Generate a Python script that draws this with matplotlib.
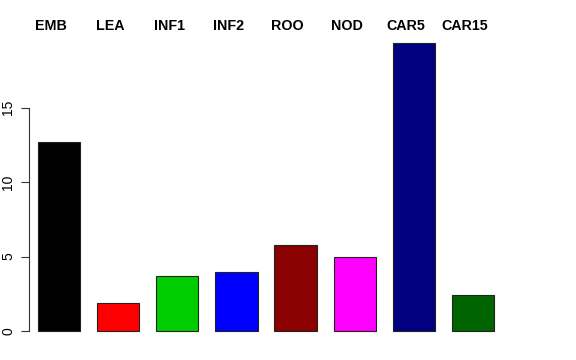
import matplotlib
matplotlib.use("Agg")
import matplotlib.pyplot as plt

categories = ["EMB", "LEA", "INF1", "INF2", "ROO", "NOD", "CAR5", "CAR15"]
values = [12.72, 1.88, 3.70, 3.97, 5.78, 4.98, 19.37, 2.42]
colors = ["#000000", "#FF0000", "#00CD00", "#0000FF", "#8B0000", "#FF00FF", "#000080", "#006400"]
yticks = [0, 5, 10, 15]

plt.rcParams['font.family'] = ['Liberation Sans', 'DejaVu Sans']

W, H = 576, 360
fig = plt.figure(figsize=(W / 100, H / 100), dpi=100)
left_px, right_px, top_px, bot_px = 29, 512, 31, 342.5
ax = fig.add_axes([left_px / W, 1 - bot_px / H, (right_px - left_px) / W, (bot_px - top_px) / H])

x = list(range(len(categories)))
width = 1 / 1.4
ax.bar(x, values, width=width, color=colors, edgecolor="#222222", linewidth=0.8)

# x limits so bars map to pixels
ppu = (494 - 38) / (7 + width)
x0 = -width / 2 - (38 - left_px) / ppu
x1 = 7 + width / 2 + (right_px - 494) / ppu
ax.set_xlim(x0, x1)
ymax = max(values)
ax.set_ylim(-0.04 * ymax, 1.04 * ymax)

for s in ["top", "right", "bottom"]:
    ax.spines[s].set_visible(False)
ax.spines["left"].set_bounds(0, 15)
ax.spines["left"].set_linewidth(0.8)
ax.spines["left"].set_color("#333333")
ax.set_xticks([])
ax.set_yticks(yticks)
ax.set_yticklabels([str(t) for t in yticks], rotation=90, va="center", fontsize=10)
ax.tick_params(axis="y", length=6, width=0.8, pad=4, color="#333333")

for xi, lab in zip(x, categories):
    fx = (left_px + (xi - x0) * ppu - 8) / W
    fig.text(fx, 1 - 30 / H, lab, ha="center", va="baseline", fontsize=10.3, fontweight="bold")

fig.savefig("out.png", dpi=100)
